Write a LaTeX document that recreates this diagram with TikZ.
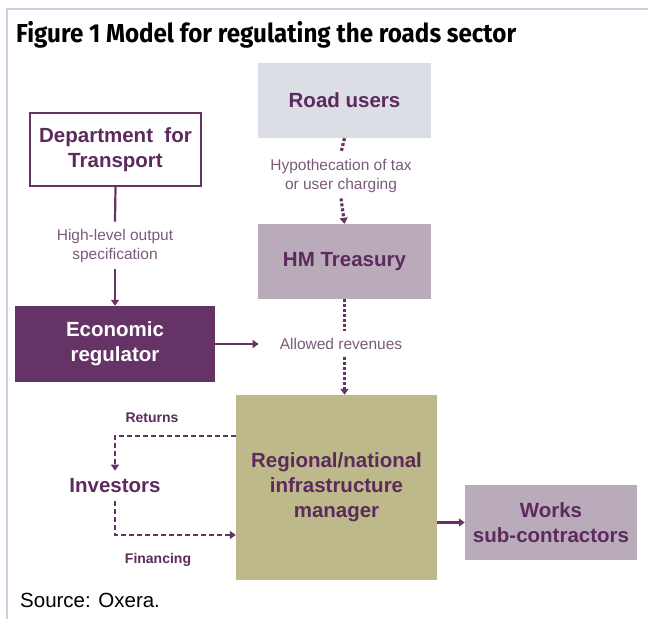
\documentclass[tikz,border=0pt]{standalone}
\usepackage{fontspec}
\setmainfont{Liberation Sans}
\newfontfamily\titlefont[FakeStretch=0.93]{Fira Sans}
\usetikzlibrary{arrows.meta,calc}

\definecolor{plum}{HTML}{663366}
\definecolor{plumtext}{HTML}{5C2A5C}
\definecolor{labeltext}{HTML}{7A5A7A}
\definecolor{usersfill}{HTML}{DCDEE5}
\definecolor{mauvefill}{HTML}{B9ABB9}
\definecolor{olivefill}{HTML}{BEB98A}
\definecolor{framecol}{HTML}{C9D2E0}

\tikzset{
  box/.style={minimum width=#1, inner sep=0pt, align=center,
    font=\fontsize{20.5}{25}\selectfont\bfseries, text=plumtext},
  flowlabel/.style={align=center, inner xsep=0pt, inner ysep=7pt,
    font=\fontsize{15.5}{19}\selectfont, text=labeltext},
  smallbold/.style={font=\fontsize{14}{16}\selectfont\bfseries, text=plumtext, inner sep=0pt},
  solidlink/.style={draw=plum, line width=2.2pt},
  dotlink/.style={draw=plum, line width=3.2pt, dash pattern=on 3pt off 2pt},
  dashlink/.style={draw=plum, line width=1.6pt, dash pattern=on 5pt off 3pt},
  tip/.style={-{Triangle[width=8pt,length=6pt]}},
}

\begin{document}
\begin{tikzpicture}[x=1pt, y=-1pt]
  \useasboundingbox (0,0) rectangle (648,619);

  % page frame (top and left rules)
  \draw[framecol, line width=2pt] (7,619) -- (7,9) -- (648,9);

  % heading and source line
  \node[anchor=west, inner sep=0pt, font=\titlefont\fontsize{26}{30}\selectfont\bfseries]
    (title) at (16,35) {Figure 1 Model for regulating the roads sector};
  \node[anchor=west, inner sep=0pt, font=\fontsize{20.5}{24}\selectfont]
    (source) at (20,600) {Source: Oxera.};

  % organisations
  \node[box=173pt, minimum height=75pt, fill=usersfill] (users) at (344.5,100.5) {Road users};
  \node[box=171pt, minimum height=73pt, draw=plum, line width=2pt, fill=white]
    (dft) at (115.5,149.5) {Department\ \ for\\Transport};
  \node[box=200pt, minimum height=76pt, fill=plum, text=white] (econ) at (115,344) {Economic\\regulator};
  \node[box=173pt, minimum height=75pt, fill=mauvefill] (hmt) at (344.5,261.5) {HM Treasury};
  \node[box=201pt, minimum height=185pt, fill=olivefill]
    (infra) at (336.5,487.5) {Regional/national\\infrastructure\\manager};
  \node[box=172pt, minimum height=75pt, fill=mauvefill] (works) at (551,522.5) {Works\\sub-contractors};
  \node[box=0pt, inner ysep=8pt] (investors) at (115,486) {Investors};

  % flow labels
  \node[flowlabel] (spec) at (115,245.5) {High-level output\\specification};
  \node[flowlabel, inner ysep=6pt] (hyp) at (341,175.5) {Hypothecation of tax\\or user charging};
  \node[flowlabel, inner xsep=21pt] (allowed) at (341,344) {Allowed revenues};
  \node[smallbold] (returns) at (152,418) {Returns};
  \node[smallbold] (financing) at (158,560) {Financing};

  % Department for Transport -> economic regulator
  \draw[solidlink] (dft.south) -- (spec.north);
  \draw[solidlink, tip] (spec.south) -- (econ.north);

  % economic regulator -> allowed revenues
  \draw[solidlink, tip] (econ.east) -- (allowed.west);

  % road users -> HM Treasury -> infrastructure manager
  \draw[dotlink] (users.south) -- (hyp.north);
  \draw[dotlink, tip] (hyp.south) -- (hmt.north);
  \draw[dotlink] (hmt.south) -- (allowed.north -| hmt.south);
  \draw[dotlink, tip] (allowed.south -| hmt.south) -- (infra.north -| hmt.south);

  % returns to and financing from investors
  \draw[dashlink, tip] ([yshift=51.5pt]infra.west) -| (investors.north);
  \draw[dashlink, tip] (investors.south) |- ([yshift=-47.5pt]infra.west);

  % infrastructure manager -> works sub-contractors
  \draw[solidlink, tip] (infra.east |- works.west) -- (works.west);
\end{tikzpicture}
\end{document}
